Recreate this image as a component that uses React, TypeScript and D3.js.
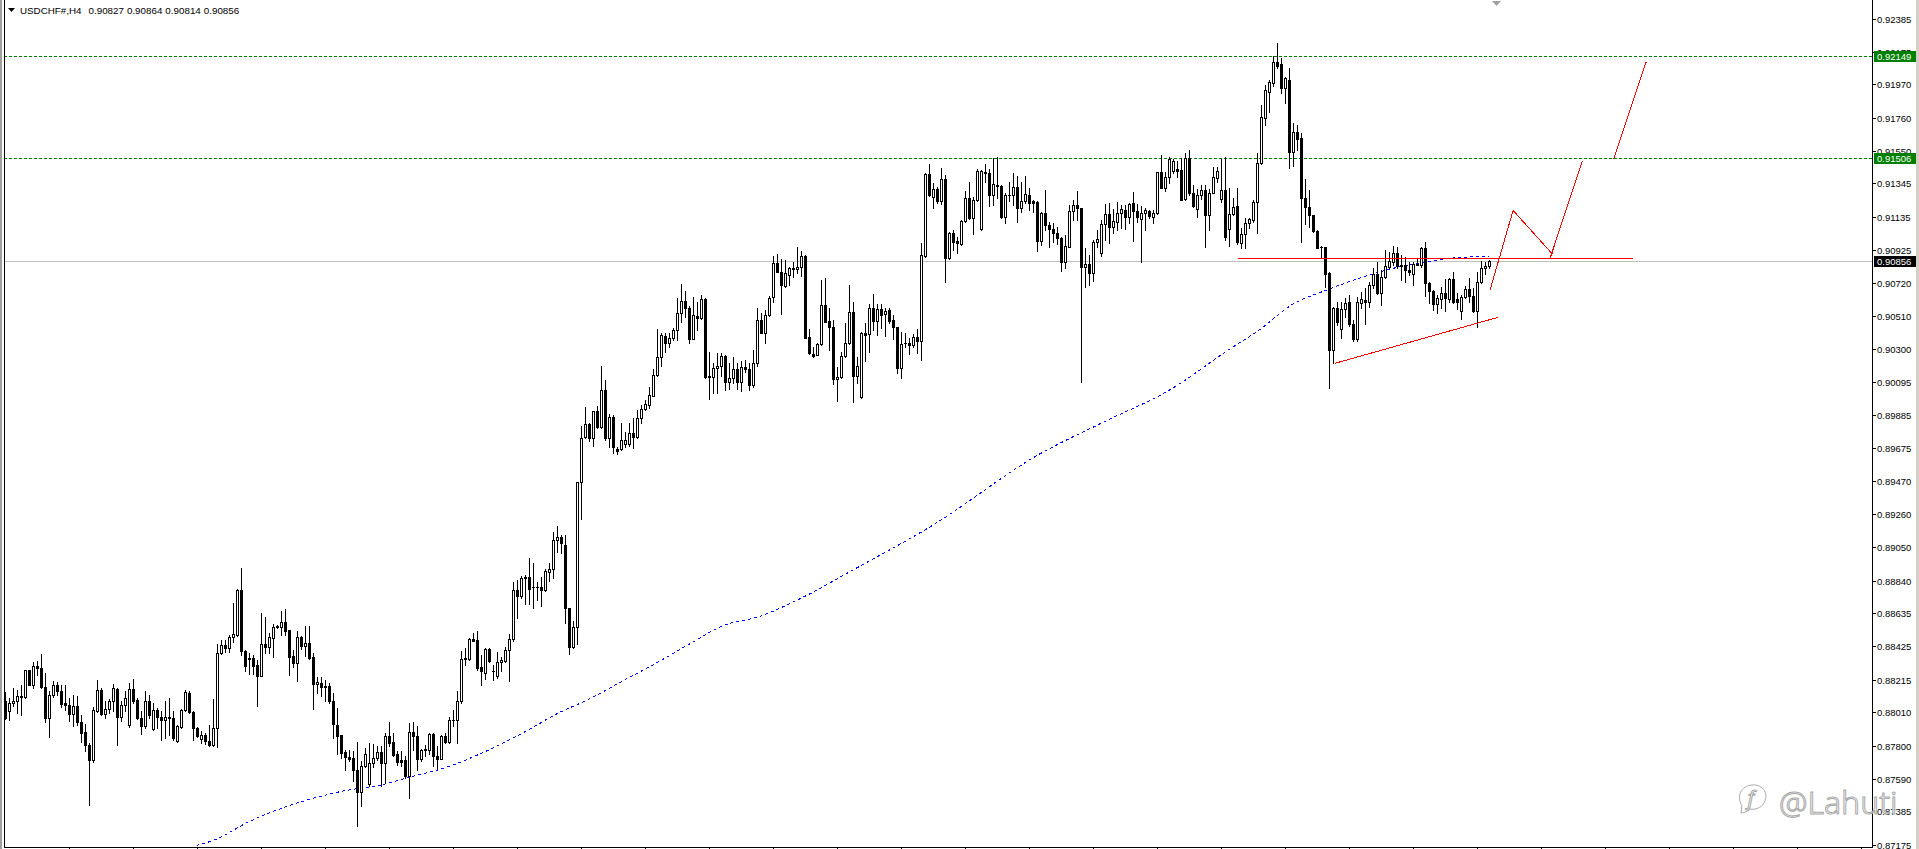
import { useEffect } from 'react';
import * as d3 from 'd3';

const WIDTH = 1919;
const HEIGHT = 849;
const AXIS_X = 1872;
const PLOT_LEFT = 4;
const PLOT_BOTTOM = 847;

const SYMBOL = 'USDCHF#,H4';

// H4 bars, prices in points (1e-5)
const OPEN = [
  88078, 88015, 88067, 88078, 88103, 88103, 88275, 88183, 88303, 88288, 88168, 87973, 88120, 88181, 88145, 88067, 88057, 87998, 88051, 87948,
  87885, 87805, 87706, 88019, 88152, 88000, 88032, 88082, 88158, 87977, 88053, 87927, 88156, 88088, 87973, 87921, 88082, 87904, 88026, 87981,
  87960, 87979, 87973, 87826, 87914, 88023, 88133, 88011, 87910, 87843, 87868, 87830, 87801, 87910, 88385, 88435, 88414, 88485, 88498, 88784,
  88397, 88352, 88350, 88308, 88241, 88439, 88424, 88477, 88550, 88550, 88577, 88529, 88365, 88323, 88485, 88430, 88445, 88357, 88185, 88193,
  88176, 88176, 88082, 87931, 87865, 87756, 87729, 87723, 87647, 87504, 87670, 87555, 87689, 87720, 87760, 87687, 87861, 87823, 87744, 87710,
  87710, 87605, 87884, 87861, 87718, 87773, 87773, 87874, 87735, 87718, 87861, 87823, 87960, 87960, 88080, 88344, 88344, 88470, 88466, 88298,
  88260, 88411, 88271, 88239, 88325, 88333, 88403, 88470, 88781, 88745, 88855, 88861, 88797, 88799, 88797, 88781, 88897, 88911, 89096, 89113,
  89063, 88665, 88424, 88550, 89460, 89744, 89826, 89737, 89908, 89807, 90042, 89737, 89870, 89670, 89668, 89700, 89700, 89769, 89744, 89863,
  89920, 89948, 90006, 90135, 90252, 90383, 90341, 90368, 90421, 90526, 90603, 90561, 90364, 90511, 90494, 90614, 90130, 90122, 90181, 90193,
  90259, 90095, 90116, 90175, 90091, 90186, 90173, 90074, 90211, 90484, 90404, 90516, 90627, 90841, 90789, 90698, 90768, 90806, 90808, 90816,
  90888, 90375, 90270, 90265, 90333, 90579, 90476, 90438, 90114, 90127, 90257, 90337, 90532, 90133, 89996, 90400, 90394, 90558, 90480, 90551,
  90520, 90547, 90484, 90442, 90183, 90337, 90341, 90326, 90379, 90354, 90888, 91405, 91262, 91310, 91236, 91373, 90873, 91035, 90982, 90963,
  91110, 91255, 91125, 91241, 91056, 91415, 91409, 91272, 91335, 91329, 91136, 91272, 91272, 91321, 91188, 91234, 91272, 91234, 91228, 90984,
  91161, 91083, 91058, 91030, 90999, 90848, 90946, 91171, 91207, 91188, 90816, 90835, 90782, 90978, 90904, 91087, 91152, 91072, 91104, 91157,
  91178, 91131, 91220, 91173, 91121, 91157, 91171, 91136, 91161, 91415, 91318, 91384, 91426, 91434, 91430, 91245, 91503, 91283, 91182, 91272,
  91304, 91146, 91287, 91377, 91245, 91304, 91058, 91150, 91203, 90967, 91024, 91093, 91114, 91230, 91472, 91755, 91919, 91976, 92113, 92098,
  91949, 91997, 91545, 91671, 91629, 91255, 91198, 91146, 91045, 90944, 90944, 90778, 90295, 90557, 90427, 90551, 90599, 90456, 90364, 90593,
  90610, 90599, 90704, 90772, 90652, 90753, 90820, 90852, 90904, 90831, 90831, 90799, 90772, 90831, 90831, 90936, 90715, 90667, 90583, 90616,
  90656, 90616, 90740, 90614, 90541, 90627, 90677, 90637, 90541, 90721, 90810, 90827,
];
const HIGH = [
  88135, 88099, 88162, 88152, 88183, 88278, 88278, 88326, 88334, 88378, 88259, 88141, 88208, 88202, 88183, 88183, 88099, 88116, 88114, 87994,
  87935, 87816, 88042, 88214, 88162, 88082, 88095, 88189, 88162, 88078, 88141, 88194, 88221, 88099, 88015, 88141, 88120, 88067, 88036, 88019,
  88078, 88099, 88019, 87927, 88030, 88152, 88147, 88015, 87914, 87889, 87879, 87931, 88095, 88441, 88467, 88467, 88498, 88698, 88788, 88918,
  88404, 88382, 88372, 88340, 88634, 88609, 88508, 88567, 88561, 88649, 88659, 88529, 88403, 88523, 88491, 88554, 88554, 88386, 88235, 88231,
  88214, 88193, 88130, 88038, 87865, 87773, 87771, 87763, 87823, 87700, 87784, 87815, 87811, 87794, 87794, 87878, 87949, 87882, 87763, 87763,
  87731, 87943, 87949, 87920, 87777, 87805, 87882, 87882, 87798, 87868, 87878, 87977, 88025, 88147, 88393, 88414, 88481, 88508, 88523, 88372,
  88416, 88416, 88309, 88388, 88361, 88424, 88504, 88833, 88844, 88869, 88876, 88985, 88949, 88833, 88865, 88911, 88949, 89149, 89185, 89128,
  89128, 88665, 88588, 89460, 89815, 89937, 89832, 89908, 89941, 90194, 90105, 89891, 89885, 89681, 89832, 89779, 89832, 89863, 89916, 89950,
  89979, 90059, 90172, 90425, 90399, 90399, 90404, 90431, 90620, 90711, 90669, 90572, 90631, 90599, 90641, 90620, 90284, 90210, 90273, 90273,
  90263, 90210, 90252, 90210, 90225, 90232, 90211, 90295, 90558, 90530, 90547, 90637, 90888, 90900, 90867, 90862, 90820, 90852, 90942, 90921,
  90894, 90427, 90316, 90337, 90736, 90747, 90558, 90484, 90190, 90284, 90463, 90703, 90600, 90253, 90411, 90463, 90585, 90648, 90585, 90585,
  90558, 90558, 90516, 90442, 90410, 90404, 90368, 90396, 90425, 90967, 91409, 91468, 91346, 91325, 91440, 91398, 91041, 91052, 91005, 91115,
  91300, 91356, 91262, 91434, 91430, 91468, 91434, 91503, 91514, 91335, 91283, 91356, 91413, 91392, 91356, 91392, 91314, 91241, 91234, 91167,
  91304, 91104, 91098, 91068, 91009, 91020, 91209, 91241, 91297, 91192, 90936, 90894, 90988, 91051, 91115, 91215, 91220, 91184, 91230, 91209,
  91209, 91220, 91289, 91213, 91203, 91192, 91178, 91178, 91419, 91524, 91415, 91510, 91497, 91489, 91503, 91539, 91556, 91335, 91308, 91335,
  91335, 91308, 91451, 91451, 91497, 91514, 91314, 91251, 91314, 91062, 91125, 91129, 91241, 91535, 91840, 91966, 91997, 92149, 92233, 92134,
  92018, 92071, 91724, 91713, 91661, 91371, 91304, 91146, 91051, 90950, 90944, 90784, 90568, 90599, 90599, 90620, 90641, 90484, 90631, 90658,
  90683, 90726, 90810, 90852, 90799, 90925, 90915, 90953, 90946, 90894, 90883, 90852, 90847, 90873, 90946, 90978, 90726, 90673, 90641, 90694,
  90742, 90751, 90784, 90652, 90641, 90700, 90751, 90683, 90789, 90856, 90852, 90864,
];
const LOW = [
  87965, 87958, 88047, 88005, 87990, 88099, 88180, 88162, 88246, 88162, 87946, 87851, 88103, 88120, 88040, 88026, 87952, 87921, 87931, 87820,
  87763, 87423, 87694, 88011, 87994, 87973, 88005, 88015, 87805, 87956, 88015, 87914, 88067, 87969, 87874, 87910, 87973, 87900, 87910, 87837,
  87847, 87868, 87837, 87820, 87908, 88015, 88005, 87832, 87851, 87813, 87811, 87795, 87795, 87788, 88380, 88389, 88387, 88456, 88490, 88372,
  88267, 88252, 88252, 88052, 88236, 88386, 88386, 88361, 88540, 88498, 88498, 88246, 88294, 88210, 88409, 88365, 88346, 88033, 88134, 88115,
  88082, 88067, 87847, 87744, 87720, 87643, 87700, 87574, 87290, 87420, 87664, 87542, 87664, 87710, 87546, 87563, 87794, 87731, 87674, 87668,
  87595, 87469, 87773, 87643, 87700, 87731, 87744, 87672, 87658, 87714, 87815, 87815, 87920, 87815, 88071, 88306, 88340, 88458, 88277, 88183,
  88220, 88325, 88214, 88224, 88272, 88329, 88209, 88461, 88602, 88728, 88693, 88693, 88665, 88718, 88682, 88777, 88840, 88855, 89023, 89016,
  88571, 88377, 88413, 88440, 89227, 89737, 89723, 89689, 89800, 89800, 89727, 89685, 89647, 89641, 89664, 89685, 89689, 89678, 89737, 89836,
  89916, 89931, 90004, 90130, 90194, 90284, 90311, 90357, 90357, 90473, 90505, 90341, 90362, 90421, 90490, 90120, 89985, 90021, 90025, 90130,
  90042, 90046, 90084, 90046, 90038, 90158, 90043, 90064, 90194, 90400, 90341, 90509, 90600, 90785, 90522, 90694, 90705, 90757, 90778, 90761,
  90370, 90270, 90253, 90261, 90326, 90469, 90295, 90080, 89975, 90120, 90249, 90333, 89969, 90089, 89990, 90228, 90284, 90421, 90389, 90431,
  90385, 90463, 90362, 90148, 90120, 90316, 90270, 90312, 90278, 90232, 90883, 91266, 91188, 91220, 91215, 90726, 90867, 90925, 90904, 90957,
  91104, 91121, 91026, 91237, 91051, 91356, 91205, 91209, 91251, 91125, 91093, 91236, 91209, 91104, 91167, 91220, 91178, 91167, 90921, 90957,
  91051, 90942, 90978, 90963, 90795, 90810, 90942, 91115, 91115, 90095, 90690, 90705, 90732, 90946, 90890, 90988, 90972, 91035, 91051, 91062,
  91056, 91093, 90984, 91104, 90852, 91051, 91125, 91093, 91152, 91314, 91299, 91350, 91413, 91388, 91241, 91241, 91272, 91199, 91131, 91245,
  90946, 91051, 91283, 91356, 91230, 90988, 90953, 91146, 90961, 90936, 90936, 91062, 91104, 91030, 91465, 91713, 91793, 91961, 92071, 91913,
  91850, 91444, 91457, 91556, 90978, 91087, 91072, 91041, 90936, 90877, 90694, 90053, 90211, 90452, 90368, 90505, 90448, 90353, 90351, 90562,
  90456, 90568, 90683, 90646, 90578, 90747, 90814, 90831, 90814, 90736, 90721, 90768, 90704, 90829, 90820, 90637, 90589, 90547, 90526, 90562,
  90541, 90595, 90589, 90553, 90490, 90625, 90599, 90532, 90442, 90715, 90772, 90814,
];
const CLOSE = [
  87973, 88067, 88082, 88112, 88112, 88275, 88183, 88303, 88288, 88166, 87973, 88120, 88181, 88141, 88065, 88053, 87998, 88051, 87946, 87876,
  87801, 87706, 88026, 88152, 88000, 88032, 88082, 88162, 87977, 88053, 88099, 88156, 88082, 87971, 87921, 88082, 87992, 88026, 87977, 87960,
  87979, 87973, 87847, 87925, 88026, 88135, 88009, 87910, 87862, 87868, 87826, 87801, 87910, 88385, 88435, 88414, 88485, 88502, 88784, 88393,
  88299, 88348, 88304, 88241, 88439, 88424, 88483, 88546, 88552, 88577, 88525, 88361, 88323, 88483, 88430, 88445, 88355, 88185, 88199, 88166,
  88168, 88078, 87933, 87863, 87752, 87725, 87714, 87645, 87504, 87670, 87748, 87689, 87720, 87760, 87687, 87861, 87819, 87739, 87697, 87697,
  87605, 87884, 87857, 87718, 87773, 87775, 87874, 87731, 87718, 87861, 87823, 87960, 87964, 88080, 88348, 88353, 88470, 88462, 88292, 88273,
  88407, 88334, 88269, 88325, 88340, 88403, 88470, 88781, 88745, 88855, 88861, 88789, 88799, 88797, 88781, 88901, 88911, 89096, 89113, 89075,
  88665, 88424, 88550, 89460, 89737, 89826, 89737, 89908, 89807, 90042, 89737, 89870, 89685, 89660, 89725, 89725, 89769, 89744, 89863, 89920,
  89952, 90011, 90137, 90252, 90389, 90341, 90368, 90421, 90528, 90603, 90557, 90364, 90515, 90494, 90614, 90126, 90122, 90181, 90193, 90259,
  90095, 90116, 90175, 90091, 90186, 90173, 90074, 90211, 90484, 90404, 90516, 90623, 90841, 90789, 90705, 90778, 90814, 90812, 90816, 90888,
  90373, 90274, 90259, 90333, 90579, 90473, 90438, 90114, 90127, 90257, 90337, 90532, 90133, 90194, 90400, 90387, 90558, 90480, 90551, 90516,
  90539, 90480, 90442, 90183, 90333, 90339, 90326, 90379, 90354, 90892, 91405, 91272, 91310, 91236, 91373, 90873, 91035, 90974, 90967, 91110,
  91255, 91125, 91241, 91426, 91424, 91409, 91272, 91339, 91329, 91136, 91272, 91270, 91321, 91188, 91234, 91276, 91220, 91224, 90984, 91161,
  91083, 91056, 91030, 90999, 90848, 90951, 91171, 91207, 91188, 90816, 90835, 90778, 90978, 90993, 91087, 91152, 91072, 91108, 91157, 91182,
  91131, 91215, 91173, 91131, 91161, 91178, 91140, 91157, 91415, 91318, 91384, 91497, 91489, 91426, 91241, 91503, 91283, 91203, 91272, 91304,
  91146, 91287, 91384, 91424, 91304, 91009, 91150, 91198, 90974, 91024, 91093, 91121, 91230, 91472, 91762, 91934, 91983, 92113, 92088, 91949,
  92008, 91545, 91671, 91625, 91255, 91198, 91146, 91045, 90940, 90942, 90772, 90295, 90557, 90473, 90553, 90593, 90456, 90364, 90599, 90616,
  90599, 90704, 90772, 90652, 90753, 90824, 90856, 90904, 90824, 90827, 90799, 90784, 90835, 90839, 90936, 90715, 90667, 90583, 90620, 90652,
  90620, 90740, 90599, 90599, 90631, 90677, 90637, 90541, 90721, 90810, 90824, 90856,
];

const PRICE_TICKS = [
  0.92385, 0.92175, 0.9197, 0.9176, 0.9155, 0.91345, 0.91135, 0.90925, 0.9072, 0.9051, 0.903, 0.90095, 0.89885,
  0.89675, 0.8947, 0.8926, 0.8905, 0.8884, 0.88635, 0.88425, 0.88215, 0.8801, 0.878, 0.8759, 0.87385, 0.87175,
];

// horizontal levels (green dashed) and the bid line
const LEVELS = [0.92149, 0.91506];
const BID = 0.90856;

// moving average: bar index / price
const MA_BAR = [
  47.75, 52.5, 60.5, 68.25, 76.75, 85, 93.25, 101.75, 110, 118.25, 129.5, 138, 146.25, 154.5, 163, 171.25, 179.5,
  188.5, 197.75, 213, 231.25, 258.75, 274.25, 291.25, 306.25, 313.25, 321.75, 330, 338.25, 346.75, 355, 363.25, 370.75,
];
const MA_PRICE = [
  0.87173, 0.8721, 0.87318, 0.874, 0.87469, 0.87519, 0.87551, 0.87608, 0.87664, 0.87746, 0.87885, 0.88005, 0.881,
  0.88213, 0.88327, 0.88447, 0.8856, 0.88617, 0.88718, 0.88926, 0.89184, 0.89645, 0.8984, 0.90049, 0.90307, 0.90421,
  0.90585, 0.90673, 0.90749, 0.90812, 0.9085, 0.90881, 0.90887,
];

// drawn red objects: [bar1, price1, bar2, price2]
const TRENDS = [
  [308, 0.90875, 406.75, 0.90875],
  [332.25, 0.90213, 373, 0.90503],
  [371.1, 0.90673, 376.9, 0.91178],
  [376.9, 0.91178, 386.7, 0.90904],
  [386.1, 0.90873, 394.2, 0.91488],
  [402.1, 0.91504, 410.2, 0.92117],
];

const FONT = "'Liberation Sans', Arial, sans-serif";

export default function App() {
  useEffect(() => {
    document.body.style.margin = '0';
  }, []);

  const x = d3.scaleLinear().domain([0, OPEN.length - 1]).range([5, 5 + 4 * (OPEN.length - 1)]);
  const y = d3.scaleLinear().domain([0.92149, 0.90856]).range([56, 261]);
  const py = (v: number) => Math.round(y(v / 1e5));

  const maLine = d3
    .line<number>()
    .x((i) => x(MA_BAR[i]) + 0.5)
    .y((i) => y(MA_PRICE[i]) + 0.5)
    .curve(d3.curveMonotoneX);

  const last = OPEN.length - 1;
  const fmt = (v: number) => (v / 1e5).toFixed(5);

  const candles = OPEN.map((o, i) => {
    const c = CLOSE[i];
    const cx = Math.round(x(i));
    const yH = py(HIGH[i]);
    const yL = py(LOW[i]);
    const yO = py(o);
    const yC = py(c);
    const top = Math.min(yO, yC);
    const bot = Math.max(yO, yC);
    const bull = c >= o;
    return (
      <g key={i}>
        <line x1={cx + 0.5} x2={cx + 0.5} y1={yH} y2={yL + 1} stroke="#000" />
        {bot - top < 1 ? (
          <line x1={cx - 1} x2={cx + 2} y1={top + 0.5} y2={top + 0.5} stroke="#000" />
        ) : bull ? (
          <rect x={cx - 0.5} y={top + 0.5} width={2} height={bot - top} fill="#fff" stroke="#000" />
        ) : (
          <rect x={cx - 1} y={top} width={3} height={bot - top + 1} fill="#000" />
        )}
      </g>
    );
  });

  const xTicks = d3.range(16, OPEN.length + 120, 16).filter((i) => x(i) < AXIS_X);

  return (
    <svg width={WIDTH} height={HEIGHT} style={{ display: 'block', background: '#fff' }} fontFamily={FONT}>
      <rect x={0} y={0} width={2} height={HEIGHT} fill="#a0a0a0" />
      <rect x={1916} y={0} width={3} height={HEIGHT} fill="#d4d0c8" />
      <line x1={PLOT_LEFT + 0.5} x2={PLOT_LEFT + 0.5} y1={0} y2={PLOT_BOTTOM} stroke="#000" />
      <path d="M1492,1 L1501,1 L1496.5,6 Z" fill="#a0a0a0" />

      <g clipPath="url(#plot)">
        <defs>
          <clipPath id="plot">
            <rect x={PLOT_LEFT + 1} y={0} width={AXIS_X - PLOT_LEFT - 1} height={PLOT_BOTTOM} />
          </clipPath>
        </defs>
        <line x1={PLOT_LEFT} x2={AXIS_X} y1={Math.round(y(BID)) + 0.5} y2={Math.round(y(BID)) + 0.5} stroke="#c0c0c0" />
        {LEVELS.map((v) => (
          <line
            key={v}
            x1={PLOT_LEFT}
            x2={AXIS_X}
            y1={Math.round(y(v)) + 0.5}
            y2={Math.round(y(v)) + 0.5}
            stroke="#008000"
            strokeDasharray="3,2"
          />
        ))}
        <path
          d={maLine(d3.range(MA_BAR.length)) ?? ''}
          fill="none"
          stroke="#0000ff"
          strokeDasharray="3,3"
          shapeRendering="crispEdges"
        />
        {candles}
        {TRENDS.map(([b1, p1, b2, p2], k) => (
          <line
            key={k}
            x1={x(b1) + 0.5}
            y1={y(p1) + 0.5}
            x2={x(b2) + 0.5}
            y2={y(p2) + 0.5}
            stroke="#ff0000"
            shapeRendering="crispEdges"
          />
        ))}
      </g>

      {/* bottom axis */}
      <line x1={PLOT_LEFT} x2={AXIS_X} y1={PLOT_BOTTOM + 0.5} y2={PLOT_BOTTOM + 0.5} stroke="#000" />
      {xTicks.map((i) => (
        <line key={i} x1={x(i) + 0.5} x2={x(i) + 0.5} y1={PLOT_BOTTOM} y2={HEIGHT} stroke="#000" />
      ))}

      {/* price axis */}
      <line x1={AXIS_X + 0.5} x2={AXIS_X + 0.5} y1={0} y2={PLOT_BOTTOM + 1} stroke="#000" />
      {PRICE_TICKS.map((v) => {
        const yy = Math.round(y(v)) + 0.5;
        return (
          <g key={v}>
            <line x1={AXIS_X} x2={AXIS_X + 4} y1={yy} y2={yy} stroke="#000" />
            <text x={AXIS_X + 5} y={yy} dominantBaseline="central" fontSize={9.5} fill="#000">
              {v.toFixed(5)}
            </text>
          </g>
        );
      })}
      {[...LEVELS.map((v) => ({ v, fill: '#008000' })), { v: BID, fill: '#000' }].map(({ v, fill }) => {
        const yy = Math.round(y(v));
        return (
          <g key={v}>
            <rect x={AXIS_X + 2} y={yy - 5} width={42} height={11} fill={fill} />
            <text x={AXIS_X + 5} y={yy + 0.5} dominantBaseline="central" fontSize={9.5} fill="#fff">
              {v.toFixed(5)}
            </text>
          </g>
        );
      })}

      {/* header */}
      <path d="M8,8 L15,8 L11.5,12 Z" fill="#000" />
      <text x={20} y={14} fontSize={9.8} fill="#000">
        {SYMBOL}
        <tspan dx={7}>{fmt(OPEN[last])}</tspan>
        <tspan dx={3}>{fmt(HIGH[last])}</tspan>
        <tspan dx={3}>{fmt(LOW[last])}</tspan>
        <tspan dx={3}>{fmt(CLOSE[last])}</tspan>
      </text>

      {/* watermark */}
      <g fill="#fff" stroke="#a8a8a8" strokeWidth={1}>
        <path d="M1742,806 C1736,796 1741,786 1752,785 C1764,784 1769,795 1764,803 C1761,808 1755,810 1750,809 C1747,812 1743,813 1741,813 Z" />
        <text x={1751} y={805} fontSize={20} fontFamily="'Noto Sans', sans-serif" fontStyle="italic" textAnchor="middle">
          f
        </text>
        <text x={1779} y={814} fontSize={32} fontFamily="'Noto Sans', sans-serif" fontWeight={300}>
          @Lahuti
        </text>
      </g>
    </svg>
  );
}
